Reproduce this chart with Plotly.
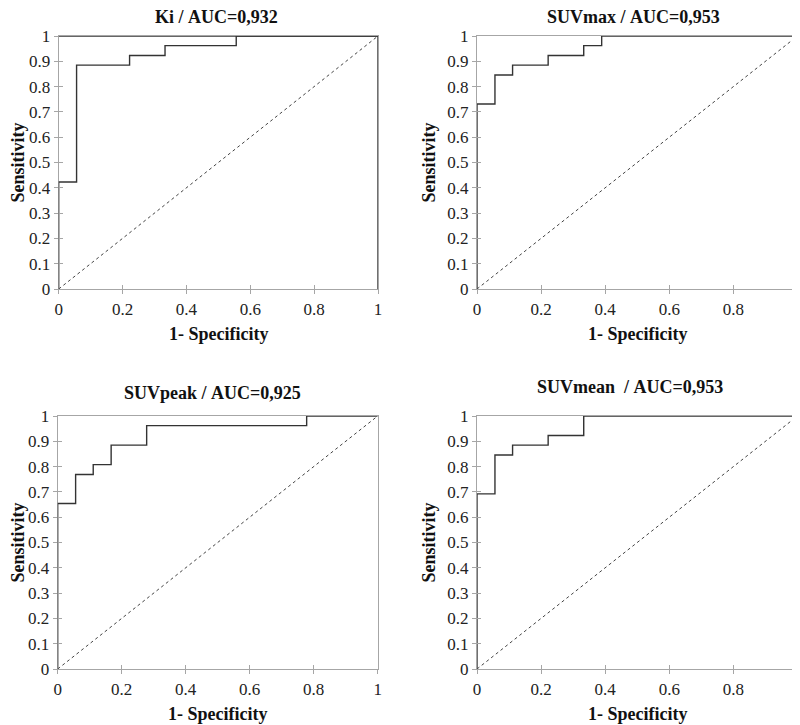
import plotly.graph_objects as go

# ROC step curves (18 negatives, 26 positives)
ki_fpr = [0, 0, 0.056, 0.056, 0.222, 0.222, 0.333, 0.333, 0.556, 0.556, 1]
ki_tpr = [0, 0.423, 0.423, 0.885, 0.885, 0.923, 0.923, 0.962, 0.962, 1, 1]

suvmax_fpr = [0, 0, 0.056, 0.056, 0.111, 0.111, 0.222, 0.222, 0.333, 0.333, 0.389, 0.389, 1]
suvmax_tpr = [0, 0.731, 0.731, 0.846, 0.846, 0.885, 0.885, 0.923, 0.923, 0.962, 0.962, 1, 1]

suvpeak_fpr = [0, 0, 0.056, 0.056, 0.111, 0.111, 0.167, 0.167, 0.278, 0.278, 0.778, 0.778, 1]
suvpeak_tpr = [0, 0.654, 0.654, 0.769, 0.769, 0.808, 0.808, 0.885, 0.885, 0.962, 0.962, 1, 1]

suvmean_fpr = [0, 0, 0.056, 0.056, 0.111, 0.111, 0.222, 0.222, 0.333, 0.333, 1]
suvmean_tpr = [0, 0.692, 0.692, 0.846, 0.846, 0.885, 0.885, 0.923, 0.923, 1, 1]

titles = ["Ki / AUC=0,932", "SUVmax / AUC=0,953", "SUVpeak / AUC=0,925", "SUVmean  / AUC=0,953"]
diag = [0, 1]
ticks = [0, 0.1, 0.2, 0.3, 0.4, 0.5, 0.6, 0.7, 0.8, 0.9, 1]
xticks = [0, 0.2, 0.4, 0.6, 0.8, 1]

curves = [(ki_fpr, ki_tpr), (suvmax_fpr, suvmax_tpr), (suvpeak_fpr, suvpeak_tpr), (suvmean_fpr, suvmean_tpr)]

# the page body adds an 8px margin, so the figure is a bit smaller than the window
OFF = 8
W, H = 800 - OFF, 725 - OFF
# window-pixel boxes of each plot area: left, right, top, bottom
boxes = [(58.7, 378, 36, 289), (477, 797.5, 36, 289), (57.7, 377.7, 416, 669), (477, 797.5, 416, 669)]
title_pos = [(216, 17), (633, 17), (212, 393), (630, 387)]
ylab_x = [17, 428, 17, 428]

FONT = "Liberation Serif"
GRAY = "#a6a6a6"
INK = "#333333"


def px(xp):
    return (xp - OFF) / W


def py(yp):
    return 1 - (yp - OFF) / H


fig = go.Figure()
layout = {}
annotations = []
shapes = []

for i, ((fx, ty), (l, r, t, b)) in enumerate(zip(curves, boxes)):
    n = i + 1
    xs = "" if n == 1 else str(n)
    ov = str(n + 4)
    xd = [px(l), px(r)]
    yd = [py(b), py(t)]

    fig.add_trace(go.Scatter(x=diag, y=diag, mode="lines", xaxis="x" + ov, yaxis="y" + ov,
                             line=dict(color="#444444", width=1, dash="dot"), hoverinfo="skip"))
    fig.add_trace(go.Scatter(x=fx, y=ty, mode="lines", xaxis="x" + xs, yaxis="y" + xs,
                             line=dict(color=INK, width=1.4), hoverinfo="skip"))

    common = dict(range=[0, 1], showgrid=False, zeroline=False, fixedrange=True, automargin=False)
    tf = dict(family=FONT, size=17, color="#222222")
    layout["xaxis" + xs] = dict(common, domain=xd, anchor="y" + xs, tickmode="array", tickvals=xticks,
                                ticktext=[f"{v:g}" for v in xticks], ticks="outside", ticklen=4,
                                tickcolor=GRAY, showline=True, linecolor=GRAY, linewidth=1.2,
                                mirror=True, layer="below traces", tickfont=tf)
    layout["yaxis" + xs] = dict(common, domain=yd, anchor="x" + xs, tickmode="array", tickvals=ticks,
                                ticktext=[f"{v:g}" for v in ticks], ticks="outside", ticklen=4,
                                tickcolor=GRAY, showline=True, linecolor=GRAY, linewidth=1.2,
                                mirror=True, layer="below traces", tickfont=tf)
    # overlay axes only to draw the inner half of the crossing ticks
    layout["xaxis" + ov] = dict(common, domain=xd, anchor="y" + ov, overlaying="x" + xs,
                                tickmode="array", tickvals=xticks, ticks="inside", ticklen=4,
                                tickcolor=GRAY, showticklabels=False, showline=False)
    layout["yaxis" + ov] = dict(common, domain=yd, anchor="x" + ov, overlaying="y" + xs,
                                tickmode="array", tickvals=ticks, ticks="inside", ticklen=4,
                                tickcolor=GRAY, showticklabels=False, showline=False)

    tx, tyy = title_pos[i]
    annotations.append(dict(text="<b>" + titles[i].replace(" ", "&nbsp;") + "</b>", x=px(tx), y=py(tyy),
                            xref="paper", yref="paper", showarrow=False, xanchor="center", yanchor="middle",
                            font=dict(family=FONT, size=18, color="#111111")))
    annotations.append(dict(text="<b>1- Specificity</b>", x=px((l + r) / 2), y=py(b + 45),
                            xref="paper", yref="paper", showarrow=False, xanchor="center", yanchor="middle",
                            font=dict(family=FONT, size=18, color="#111111")))
    annotations.append(dict(text="<b>Sensitivity</b>", x=px(ylab_x[i]), y=py((t + b) / 2),
                            xref="paper", yref="paper", showarrow=False, xanchor="center", yanchor="middle",
                            textangle=-90, font=dict(family=FONT, size=18, color="#111111")))

# Ki panel has a dark frame on top and right
shapes.append(dict(type="line", xref="x", yref="y", x0=0, y0=1, x1=1, y1=1, line=dict(color=INK, width=1.4)))
shapes.append(dict(type="line", xref="x", yref="y", x0=1, y0=1, x1=1, y1=0, line=dict(color=INK, width=1.4)))

fig.update_layout(**layout)
fig.update_layout(width=W, height=H, margin=dict(l=0, r=0, t=0, b=0),
                  font=dict(family=FONT, size=17, color="#222222"),
                  paper_bgcolor="white", plot_bgcolor="white", showlegend=False,
                  annotations=annotations, shapes=shapes)

fig.write_html("out.html")
